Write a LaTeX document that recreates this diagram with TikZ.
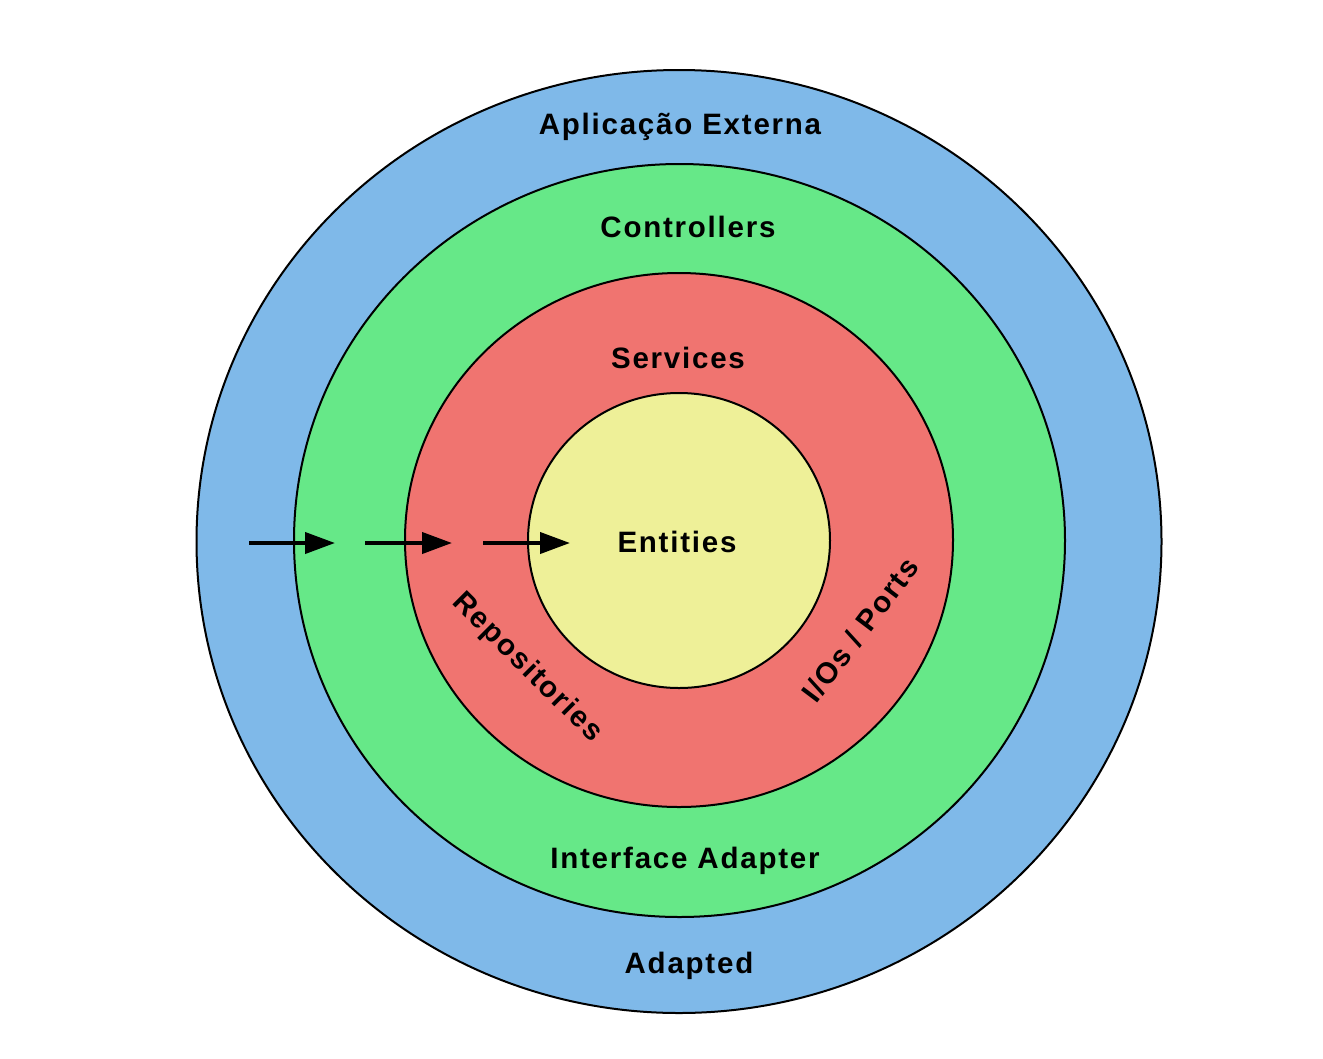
\documentclass[tikz,border=0pt]{standalone}
\usepackage{fontspec}
\setmainfont{Liberation Sans}[LetterSpace=6]
\usetikzlibrary{arrows.meta}
\definecolor{layerblue}{RGB}{127,185,233}
\definecolor{layergreen}{RGB}{102,232,136}
\definecolor{layerred}{RGB}{240,116,112}
\definecolor{layeryellow}{RGB}{238,240,152}
\tikzset{
  ring/.style={draw=black, line width=2pt},
  lbl/.style={font=\fontsize{29.5}{33}\selectfont\bfseries, inner sep=0pt, text=black},
  flow/.style={line width=4pt, -{Triangle[length=30pt,width=21pt]}},
}
\begin{document}
\begin{tikzpicture}[x=1pt,y=-1pt]
  \useasboundingbox (0,0) rectangle (1323,1058);
  % concentric layers, outermost first
  \draw[ring, fill=layerblue]   (679,541.5) ellipse [x radius=482.5, y radius=471.5];
  \draw[ring, fill=layergreen]  (679.5,540.5) ellipse [x radius=385.5, y radius=376.5];
  \draw[ring, fill=layerred]    (679,540) ellipse [x radius=274, y radius=267];
  \draw[ring, fill=layeryellow] (679,540.5) ellipse [x radius=151, y radius=147.5];

  % layer labels
  \node[lbl] (ext)   at (680,127) {Aplicação Externa};
  \node[lbl] (ctrl)  at (688,227) {Controllers};
  \node[lbl] (serv)  at (678,358) {Services};
  \node[lbl] (ent)   at (677,542) {Entities};
  \node[lbl] (iface) at (685,861) {Interface Adapter};
  \node[lbl] (adpt)  at (689,966) {Adapted};
  \node[lbl, rotate=-45] (repo)  at (527,668) {Repositories};
  \node[lbl, rotate=53]  (ports) at (860,630) {I/Os / Ports};

  % inward dependency arrows
  \coordinate (a1s) at (249,543); \coordinate (a1e) at (335,543);
  \coordinate (a2s) at (365,543); \coordinate (a2e) at (452,543);
  \coordinate (a3s) at (483,543); \coordinate (a3e) at (570,543);
  \draw[flow] (a1s) -- (a1e);
  \draw[flow] (a2s) -- (a2e);
  \draw[flow] (a3s) -- (a3e);
\end{tikzpicture}
\end{document}
